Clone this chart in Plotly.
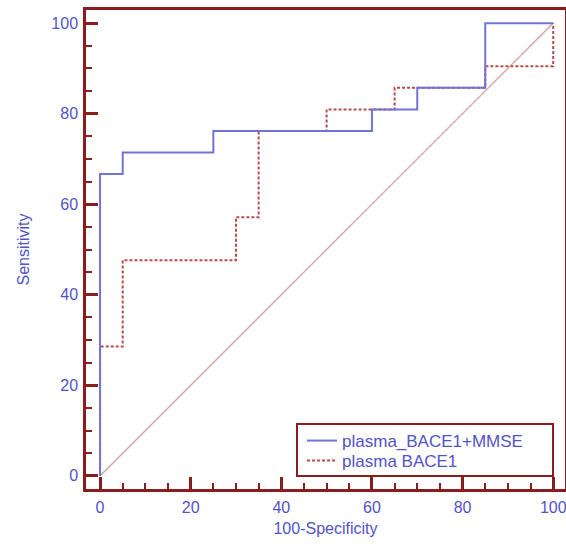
import plotly.graph_objects as go

# ROC step data (100-Specificity, Sensitivity)
combo_x = [0, 0, 5, 5, 25, 25, 60, 60, 70, 70, 85, 85, 100]
combo_y = [0, 66.67, 66.67, 71.43, 71.43, 76.19, 76.19, 80.95, 80.95, 85.71, 85.71, 100, 100]

bace_x = [0, 0, 5, 5, 30, 30, 35, 35, 50, 50, 65, 65, 85, 85, 100, 100]
bace_y = [0, 28.57, 28.57, 47.62, 47.62, 57.14, 57.14, 76.19, 76.19, 80.95, 80.95, 85.71, 85.71, 90.48, 90.48, 100]

diag_x = [0, 100]
diag_y = [0, 100]

tick_vals = [0, 20, 40, 60, 80, 100]

FRAME = "#8a1c1c"
TXT = "#5353c8"
FONT = "Liberation Sans, Arial"

fig = go.Figure()
fig.add_trace(go.Scatter(x=diag_x, y=diag_y, mode="lines", showlegend=False,
                         line=dict(color="#dca9a9", width=1.5), hoverinfo="skip"))
fig.add_trace(go.Scatter(x=bace_x, y=bace_y, mode="lines", name="plasma BACE1",
                         legend="legend2",
                         line=dict(color="#b84c4c", width=2, dash="3px,2px")))
fig.add_trace(go.Scatter(x=combo_x, y=combo_y, mode="lines", name="plasma_BACE1+MMSE",
                         legend="legend",
                         line=dict(color="#7373d6", width=2)))

axis_common = dict(
    showgrid=False, zeroline=False, showline=True, linecolor=FRAME, linewidth=2.5,
    mirror=True, ticks="inside", ticklen=12, tickwidth=2.5, tickcolor=FRAME,
    tickvals=tick_vals, ticktext=[str(v) for v in tick_vals],
    tickfont=dict(family=FONT, size=16, color=TXT),
    ticklabelstandoff=2, automargin=False, ticklabeloverflow="allow",
    minor=dict(ticks="inside", ticklen=6, tickwidth=2, tickcolor=FRAME, dtick=5, tick0=0, showgrid=False),
)

fig.update_xaxes(range=[-3.1, 102.6], title=dict(text="100-Specificity", standoff=8,
                 font=dict(family=FONT, size=16, color=TXT)), **axis_common)
fig.update_yaxes(range=[-2.9, 102.9], title=dict(text="Sensitivity", standoff=18,
                 font=dict(family=FONT, size=16, color=TXT)), **axis_common)

# legend frame (paper coords of the plot area)
fig.add_shape(type="rect", xref="paper", yref="paper",
              x0=0.4405, x1=0.975, y0=0.027, y1=0.1357,
              line=dict(color=FRAME, width=2), fillcolor="white", layer="below")

leg_common = dict(x=0.451, xanchor="left", yanchor="middle",
                  borderwidth=0, bgcolor="rgba(0,0,0,0)",
                  font=dict(family=FONT, size=17, color=TXT), itemwidth=30)

fig.update_layout(
    width=566, height=544,
    margin=dict(l=86, r=1, t=10, b=55),
    paper_bgcolor="white", plot_bgcolor="white",
    legend=dict(y=0.1002, **leg_common),
    legend2=dict(y=0.0585, **leg_common),
)

fig.write_html("out.html",
               config={"displayModeBar": False},
               post_script="document.body.style.margin='0';document.body.style.overflow='hidden';")
